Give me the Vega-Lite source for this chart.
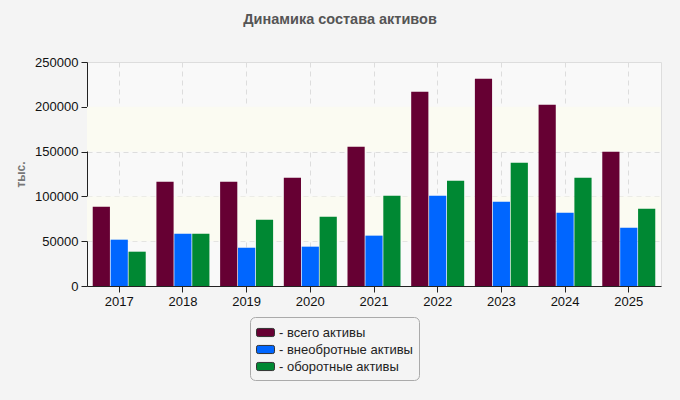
{
  "$schema": "https://vega.github.io/schema/vega-lite/v6.json",
  "width": 574,
  "height": 224,
  "autosize": {"type": "none"},
  "padding": {"left": 87, "top": 62, "right": 19, "bottom": 114},
  "background": "#f4f4f4",
  "title": {
    "text": "Динамика состава активов",
    "font": "Liberation Sans",
    "fontSize": 14.5,
    "fontWeight": "bold",
    "color": "#555555",
    "anchor": "middle",
    "dx": -34,
    "offset": 29
  },
  "config": {
    "font": "Liberation Sans",
    "view": {"fill": "#f9f9f9", "stroke": "#dddddd"}
  },
  "datasets": {
    "bands": [
      {"from": 50000, "to": 100000},
      {"from": 150000, "to": 200000}
    ],
    "assets": [
      {"year": "2017", "series": "всего активы", "value": 88500},
      {"year": "2017", "series": "внеобротные активы", "value": 51700},
      {"year": "2017", "series": "оборотные активы", "value": 38300},
      {"year": "2018", "series": "всего активы", "value": 116400},
      {"year": "2018", "series": "внеобротные активы", "value": 58400},
      {"year": "2018", "series": "оборотные активы", "value": 58400},
      {"year": "2019", "series": "всего активы", "value": 116400},
      {"year": "2019", "series": "внеобротные активы", "value": 42700},
      {"year": "2019", "series": "оборотные активы", "value": 74000},
      {"year": "2020", "series": "всего активы", "value": 120900},
      {"year": "2020", "series": "внеобротные активы", "value": 43900},
      {"year": "2020", "series": "оборотные активы", "value": 77300},
      {"year": "2021", "series": "всего активы", "value": 155500},
      {"year": "2021", "series": "внеобротные активы", "value": 56200},
      {"year": "2021", "series": "оборотные активы", "value": 100800},
      {"year": "2022", "series": "всего активы", "value": 216900},
      {"year": "2022", "series": "внеобротные активы", "value": 100800},
      {"year": "2022", "series": "оборотные активы", "value": 117500},
      {"year": "2023", "series": "всего активы", "value": 231400},
      {"year": "2023", "series": "внеобротные активы", "value": 94100},
      {"year": "2023", "series": "оборотные активы", "value": 137600},
      {"year": "2024", "series": "всего активы", "value": 202300},
      {"year": "2024", "series": "внеобротные активы", "value": 81800},
      {"year": "2024", "series": "оборотные активы", "value": 120900},
      {"year": "2025", "series": "всего активы", "value": 149900},
      {"year": "2025", "series": "внеобротные активы", "value": 65100},
      {"year": "2025", "series": "оборотные активы", "value": 86300}
    ]
  },
  "layer": [
    {
      "data": {"name": "bands"},
      "mark": {"type": "rect", "color": "#fbfbf2"},
      "encoding": {
        "y": {"field": "from", "type": "quantitative", "scale": {"domain": [0, 250000]}},
        "y2": {"field": "to"}
      }
    },
    {
      "data": {"name": "assets"},
      "mark": {"type": "bar"},
      "encoding": {
        "x": {
          "field": "year",
          "type": "nominal",
          "scale": {"paddingInner": 0.168, "paddingOuter": 0.09},
          "axis": {
            "title": null,
            "labelAngle": 0,
            "labelFontSize": 13,
            "labelColor": "#111111",
            "labelPadding": 3,
            "domainColor": "#222222",
            "tickColor": "#222222",
            "tickSize": 6,
            "bandPosition": 0.5,
            "grid": true,
            "gridColor": "#dddddd",
            "gridDash": [5, 4]
          }
        },
        "xOffset": {
          "field": "series",
          "type": "nominal",
          "sort": ["всего активы", "внеобротные активы", "оборотные активы"],
          "scale": {"paddingInner": 0.04}
        },
        "y": {
          "field": "value",
          "type": "quantitative",
          "scale": {"domain": [0, 250000], "nice": false},
          "axis": {
            "title": "тыс.",
            "titleFontSize": 12,
            "titleFontWeight": "bold",
            "titleColor": "#777777",
            "titleX": -67,
            "titleY": 112,
            "titleAngle": -90,
            "titleAlign": "center",
            "titleBaseline": "middle",
            "values": [0, 50000, 100000, 150000, 200000, 250000],
            "format": "d",
            "labelFontSize": 13,
            "labelColor": "#111111",
            "labelPadding": 3,
            "domainColor": "#222222",
            "tickColor": "#222222",
            "tickSize": 6,
            "grid": true,
            "gridColor": "#dddddd",
            "gridDash": [5, 4]
          }
        },
        "color": {
          "field": "series",
          "type": "nominal",
          "sort": ["всего активы", "внеобротные активы", "оборотные активы"],
          "scale": {
            "domain": ["всего активы", "внеобротные активы", "оборотные активы"],
            "range": ["#660033", "#0066ff", "#008833"]
          },
          "legend": {
            "title": null,
            "orient": "none",
            "legendX": 163,
            "legendY": 255,
            "direction": "vertical",
            "labelExpr": "'- ' + datum.label",
            "labelFontSize": 13,
            "labelColor": "#222222",
            "labelOffset": 4,
            "symbolType": "M-0.8,-0.45H0.8Q1,-0.45 1,-0.25V0.25Q1,0.45 0.8,0.45H-0.8Q-1,0.45 -1,0.25V-0.25Q-1,-0.45 -0.8,-0.45Z",
            "symbolSize": 324,
            "symbolStrokeColor": "#333333",
            "symbolStrokeWidth": 1,
            "symbolOpacity": 1,
            "rowPadding": 0,
            "padding": 6,
            "fillColor": "#f4f4f4",
            "strokeColor": "#aaaaaa",
            "cornerRadius": 5
          }
        }
      }
    }
  ]
}
